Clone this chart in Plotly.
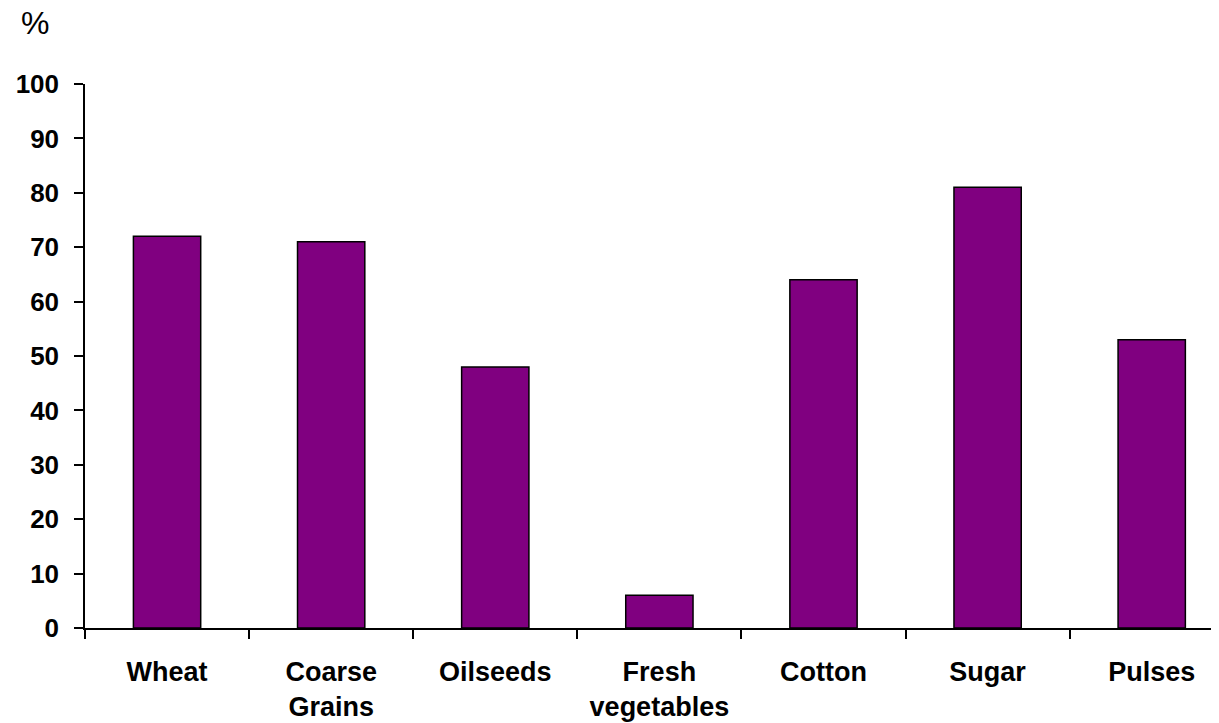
import plotly.graph_objects as go

categories = ["Wheat", "Coarse<br>Grains", "Oilseeds", "Fresh<br>vegetables", "Cotton", "Sugar", "Pulses"]
values = [72, 71, 48, 6, 64, 81, 53]
y_ticks = [0, 10, 20, 30, 40, 50, 60, 70, 80, 90, 100]

FONT = "Arial, Liberation Sans, sans-serif"

# the page body adds an 8px offset; compensate in the margins
OFF = 8
W, H = 1219, 723
PLOT_L, PLOT_T, PLOT_B, PLOT_R = 82, 84, 628, 1219

fig = go.Figure(
    go.Bar(
        x=categories,
        y=values,
        width=0.41,
        marker=dict(color="#800080", line=dict(color="#000000", width=1.5)),
    )
)

fig.update_layout(
    width=W,
    height=H,
    margin=dict(l=PLOT_L - OFF, r=W - (PLOT_R - OFF), t=PLOT_T - OFF, b=H - (PLOT_B - OFF)),
    paper_bgcolor="white",
    plot_bgcolor="white",
    showlegend=False,
    font=dict(family=FONT, color="black"),
)

fig.update_xaxes(
    range=[-0.5, 6.41],
    showline=True,
    linecolor="black",
    linewidth=1.5,
    ticks="outside",
    tickson="boundaries",
    ticklen=9,
    tickwidth=1.5,
    tickcolor="black",
    showgrid=False,
    tickfont=dict(family=FONT, size=27, color="black", weight="bold"),
    ticklabelstandoff=19,
)

fig.update_yaxes(
    range=[0, 100],
    tickvals=y_ticks,
    showline=True,
    linecolor="black",
    linewidth=1.5,
    ticks="outside",
    ticklen=9,
    tickwidth=1.5,
    tickcolor="black",
    showgrid=False,
    zeroline=False,
    tickfont=dict(family=FONT, size=26, color="black", weight="bold"),
    ticklabelstandoff=10,
)

plot_w = PLOT_R - PLOT_L
plot_h = PLOT_B - PLOT_T
fig.add_annotation(
    text="%",
    xref="paper", yref="paper",
    x=(16 - PLOT_L) / plot_w, y=(PLOT_B - 23) / plot_h,
    xanchor="left", yanchor="middle",
    showarrow=False,
    font=dict(family=FONT, size=32, color="black"),
)

fig.write_html("out.html")
